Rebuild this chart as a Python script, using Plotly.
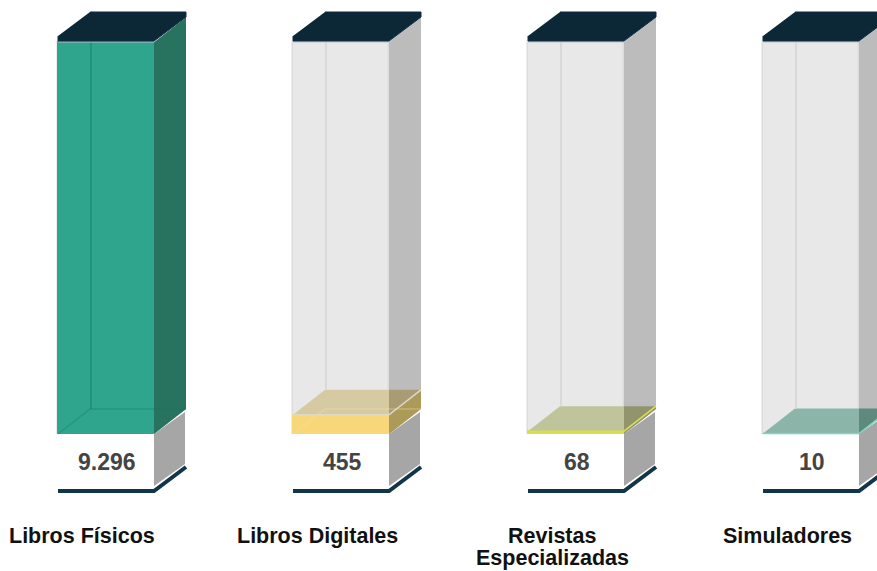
import plotly.graph_objects as go

# --- data ---
categories = ["Libros Físicos", "Libros Digitales", "Revistas<br>Especializadas", "Simuladores"]
values = [9296, 455, 68, 10]
value_labels = ["9.296", "455", "68", "10"]

# --- styles ---
FRONT = ["#2fa58e", "#f8d77a", "#d8de50", "#7fd4c0"]
TOPF = ["#2fa58e", "#d6caa2", "#c0c49a", "#8bb5a8"]
SIDE = ["#27735f", "#ab9a58", "#91946d", "#5d8a7d"]
OVER = ["#27735f", "#a99c74", "#91946d", "#5d8a7d"]
RIM = [None, "#ddd9c9", "#d8de50", "#7fd4c0"]
FLOOR = ["rgba(20,120,100,0.35)", "rgba(245,225,170,0.35)", None, None]
BACK = ["rgba(20,120,100,0.4)", "#d9d9d9", "#d9d9d9", "#d9d9d9"]
GLASS_FRONT = "#e8e8e8"
GLASS_SIDE = "#bcbcbc"
GLASS_EDGE = "#dcdcdc"
CAP = "#0c2735"
CAP_EDGE = "#102c48"
BASE_LINE = "#123549"
PLINTH = "#a6a6a6"

# --- scales: pixel sizes expressed in axis units ---
W, H = 877, 571
STEP_PX = 235.0
FIRST_PX = 106.0
FLOOR_PX = 434.0
TOP_PX = 42.0
capacity = max(values)
KY = capacity / (FLOOR_PX - TOP_PX)   # value units per pixel
KX = 1 / STEP_PX                      # category units per pixel
HALF = 48 * KX
DX = 32 * KX
DY = 25 * KY
x_range = [-FIRST_PX * KX, (W - FIRST_PX) * KX]
y_range = [-(H - FLOOR_PX) * KY, FLOOR_PX * KY]


def poly(xs, ys, fill, line=None, lw=0):
    return go.Scatter(x=xs, y=ys, mode="lines", fill="toself", fillcolor=fill,
                      line=dict(color=line or fill, width=lw if line else 0),
                      hoverinfo="skip", showlegend=False)


def path(xs, ys, color, lw=1):
    return go.Scatter(x=xs, y=ys, mode="lines", line=dict(color=color, width=lw),
                      hoverinfo="skip", showlegend=False)


fig = go.Figure()
idx = list(range(len(categories)))
fig.add_bar(x=idx, y=[capacity] * len(idx), width=2 * HALF, marker=dict(color=GLASS_FRONT, line=dict(color=GLASS_EDGE, width=1.5)),
            hoverinfo="skip", showlegend=False)
fig.add_bar(x=idx, y=values, width=2 * HALF, marker=dict(color=FRONT, line=dict(color=FRONT, width=1)),
            hovertemplate="%{x}: %{y}<extra></extra>", showlegend=False)

for i, v in enumerate(values):
    L, R = i - HALF, i + HALF
    # plinth under the column
    plinth_h = 52 * KY
    fig.add_trace(poly([R, R + DX - KX, R + DX - KX, R], [0, 22 * KY, 22 * KY - plinth_h, -plinth_h], PLINTH))
    fig.add_trace(path([L, R, R + DX], [-57 * KY, -57 * KY, -33 * KY], BASE_LINE, 4))
    # glass side
    fig.add_trace(poly([R, R + DX, R + DX, R], [0, DY, capacity + DY, capacity], GLASS_SIDE))
    # liquid side
    fig.add_trace(poly([R, R + DX, R + DX, R], [0, DY, v + DY, v], SIDE[i]))
    if v < capacity:
        fig.add_trace(poly([L, L + DX, R, R], [v, v + DY, v + DY, v], TOPF[i]))
        fig.add_trace(poly([R, R, R + DX], [v, v + DY, v + DY], OVER[i]))
    # glass inner edges
    back_from = DY if v >= capacity else v + DY
    fig.add_trace(path([L + DX + KX, L + DX + KX], [back_from, capacity], BACK[i], 2))
    if FLOOR[i]:
        fig.add_trace(path([L, L + DX, R + DX], [0, DY, DY], FLOOR[i], 1.5))
    if RIM[i]:
        fig.add_trace(path([L, R, R + DX], [v, v, v + DY], RIM[i], 1.5))
    # cap
    fig.add_trace(path([L, R, R + DX], [capacity, capacity, capacity + DY], "#b9c4c4", 1))
    fig.add_trace(poly([L + DX, R + DX, R + DX, R, L, L],
                       [capacity + 30 * KY, capacity + 30 * KY, capacity + 25 * KY,
                        capacity + 1 * KY, capacity + 1 * KY, capacity + 6 * KY],
                       CAP, CAP_EDGE, 1))

# value labels sit on the plinth, category labels below
for i, (c, t) in enumerate(zip(categories, value_labels)):
    fig.add_annotation(x=i + KX, y=-28 * KY, text=f"<b>{t}</b>", showarrow=False,
                       xanchor="center", yanchor="middle",
                       font=dict(family="Liberation Sans", size=23, color="#444444"))
    for n, part in enumerate(c.split("<br>")):
        fig.add_annotation(x=i - 24 * KX, y=-(102 + 22 * n) * KY, text=f"<b>{part}</b>", showarrow=False,
                           xanchor="center", yanchor="middle", align="center",
                           font=dict(family="Liberation Sans", size=21.5, color="#111111"))

fig.update_layout(
    width=W, height=H, autosize=False, barmode="overlay", bargap=0,
    margin=dict(l=0, r=0, t=0, b=0), paper_bgcolor="white", plot_bgcolor="white",
    xaxis=dict(range=x_range, visible=False, fixedrange=True),
    yaxis=dict(range=y_range, visible=False, fixedrange=True),
    showlegend=False,
)
fig.write_html("out.html", config={"displayModeBar": False}, post_script="document.body.style.margin='0';")
